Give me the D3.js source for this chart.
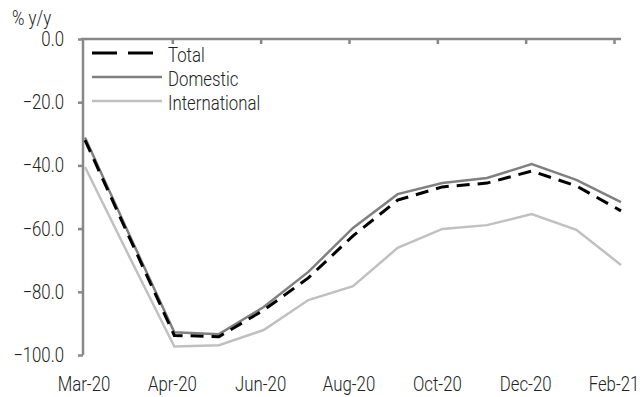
<!DOCTYPE html>
<html><head><meta charset="utf-8">
<script src="https://cdn.jsdelivr.net/npm/d3@7/dist/d3.min.js"></script>
<style>
body{margin:0;background:#fff;}
text{font-family:Roboto,"Liberation Sans",sans-serif;font-weight:300;fill:#222;}
</style></head>
<body><svg id="c" width="643" height="397"></svg>
<script>
const categories = ["Mar-20","Mar-20b","Apr-20","May-20","Jun-20","Jul-20","Aug-20","Sep-20","Oct-20","Nov-20","Dec-20","Jan-21","Feb-21"];
const tickLabels = ["Mar-20","Apr-20","Jun-20","Aug-20","Oct-20","Dec-20","Feb-21"];
const total = [-32.0,-63.0,-93.8,-94.2,-85.8,-75.6,-62.3,-51.0,-46.8,-45.6,-41.8,-46.5,-54.4];
const domestic = [-31.2,-62.2,-92.8,-93.4,-84.8,-73.7,-59.8,-49.1,-45.6,-44.0,-39.6,-44.6,-51.6];
const international = [-40.5,-69.1,-97.3,-96.9,-92.1,-82.6,-78.2,-66.1,-60.1,-58.9,-55.4,-60.4,-71.5];
const yTicks = [0,-20,-40,-60,-80,-100];

const svg = d3.select("#c");
const x = d3.scalePoint().domain(d3.range(categories.length)).range([85,621]);
const xt = d3.scalePoint().domain(d3.range(tickLabels.length)).range([84,614]);
const y = d3.scaleLinear().domain([-100,0]).range([355,39]);
const SX = 0.84, FS = 20;

function label(g, tx, ty, str, anchor){
  return g.append("text").attr("transform",`translate(${tx},${ty}) scale(${SX},1)`)
    .attr("text-anchor",anchor||"start").attr("font-size",FS).text(str);
}

// y axis
const yAxis = svg.append("g").attr("transform","translate(83,0)")
  .call(d3.axisLeft(y).tickValues(yTicks).tickSize(5).tickFormat(""));
yAxis.select(".domain").attr("stroke","#888").attr("stroke-width",2.5).attr("d","M0,39V355");
yAxis.selectAll(".tick line").attr("stroke","#888").attr("stroke-width",2.5);
const yl = svg.append("g");
yTicks.forEach(t=>label(yl, 64, y(t)+7, d3.format(".1f")(t), "end"));

// x axis at zero (top)
const xAxis = svg.append("g").attr("transform","translate(0,"+y(0)+")")
  .call(d3.axisBottom(xt).tickSize(5).tickFormat(""));
xAxis.select(".domain").attr("stroke","#888").attr("stroke-width",2.5).attr("d","M81,0H621");
xAxis.selectAll(".tick line").attr("stroke","#888").attr("stroke-width",2.5);
xAxis.selectAll(".tick").filter(d=>d===0).select("line").remove();

// x labels at bottom
const xl = svg.append("g");
tickLabels.forEach((t,i)=>label(xl, xt(i), 391, t, "middle"));

label(svg, 12, 25, "% y/y");

const line = d3.line().x((d,i)=>x(i)).y(d=>y(d));
svg.append("path").datum(international).attr("d",line).attr("fill","none").attr("stroke","#c0c0c0").attr("stroke-width",2.5);
svg.append("path").datum(domestic).attr("d",line).attr("fill","none").attr("stroke","#808080").attr("stroke-width",2.5);
svg.append("path").datum(total).attr("d",line).attr("fill","none").attr("stroke","#000").attr("stroke-width",3).attr("stroke-dasharray","13,8");

// legend
const leg = [{n:"Total",c:"#000",w:3,da:"25,11",yy:53},{n:"Domestic",c:"#808080",w:2.5,da:null,yy:77},{n:"International",c:"#c0c0c0",w:2.5,da:null,yy:101}];
const lg = svg.append("g");
leg.forEach(l=>{
  lg.append("line").attr("x1",92).attr("x2",l.da?153:162).attr("y1",l.yy).attr("y2",l.yy)
    .attr("stroke",l.c).attr("stroke-width",l.w).attr("stroke-dasharray",l.da);
  label(lg, 168, l.yy+9, l.n);
});
</script></body></html>
